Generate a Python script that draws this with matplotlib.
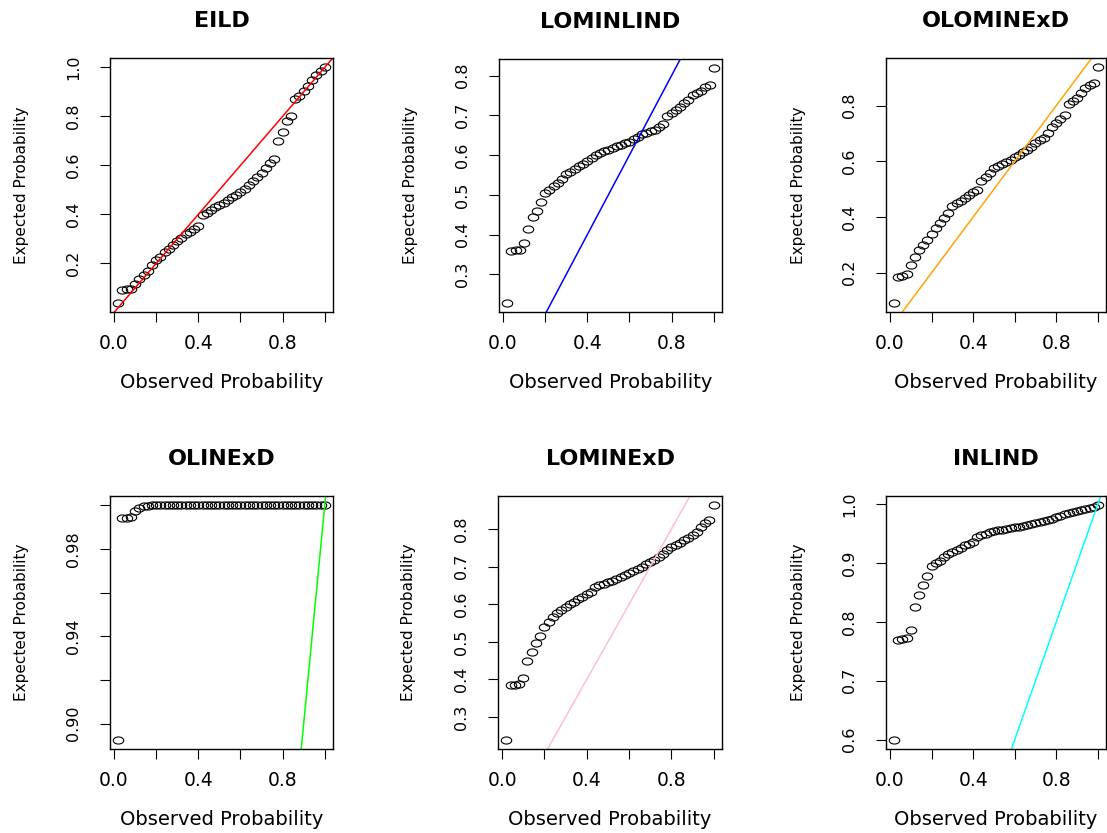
import numpy as np
import matplotlib.pyplot as plt
from matplotlib.path import Path

# observed probabilities (same sample for every model)
observed = [0.02, 0.04, 0.06, 0.08, 0.10, 0.12, 0.14, 0.16, 0.18, 0.20,
            0.22, 0.24, 0.26, 0.28, 0.30, 0.32, 0.34, 0.36, 0.38, 0.40,
            0.42, 0.44, 0.46, 0.48, 0.50, 0.52, 0.54, 0.56, 0.58, 0.60,
            0.62, 0.64, 0.66, 0.68, 0.70, 0.72, 0.74, 0.76, 0.78, 0.80,
            0.82, 0.84, 0.86, 0.88, 0.90, 0.92, 0.94, 0.96, 0.98, 1.00]

# expected probabilities for each fitted model
eild = [0.040, 0.092, 0.094, 0.097, 0.115, 0.135, 0.152, 0.170, 0.192, 0.212,
        0.226, 0.245, 0.258, 0.275, 0.290, 0.303, 0.318, 0.330, 0.342, 0.352,
        0.398, 0.405, 0.418, 0.430, 0.440, 0.448, 0.458, 0.470, 0.480, 0.492,
        0.503, 0.518, 0.535, 0.552, 0.570, 0.590, 0.610, 0.628, 0.700, 0.735,
        0.780, 0.800, 0.870, 0.885, 0.905, 0.925, 0.950, 0.968, 0.985, 1.000]
lominlind = [0.229, 0.360, 0.361, 0.362, 0.378, 0.415, 0.445, 0.460, 0.482, 0.505,
             0.512, 0.522, 0.530, 0.540, 0.552, 0.558, 0.566, 0.572, 0.578, 0.586,
             0.592, 0.600, 0.606, 0.610, 0.614, 0.618, 0.622, 0.626, 0.630, 0.634,
             0.640, 0.645, 0.652, 0.656, 0.660, 0.664, 0.670, 0.677, 0.698, 0.706,
             0.714, 0.722, 0.732, 0.738, 0.750, 0.756, 0.762, 0.770, 0.776, 0.818]
olominexd = [0.093, 0.185, 0.190, 0.195, 0.228, 0.255, 0.280, 0.298, 0.318, 0.340,
             0.362, 0.380, 0.398, 0.414, 0.440, 0.450, 0.458, 0.468, 0.478, 0.490,
             0.496, 0.530, 0.545, 0.558, 0.575, 0.582, 0.590, 0.598, 0.605, 0.615,
             0.622, 0.632, 0.640, 0.650, 0.665, 0.675, 0.683, 0.700, 0.722, 0.738,
             0.752, 0.765, 0.805, 0.815, 0.828, 0.845, 0.862, 0.875, 0.882, 0.937]
olinexd = [0.8927, 0.9942, 0.9943, 0.9945, 0.9972, 0.9990, 0.9996, 0.9999, 1.0000, 1.0000,
           1.0000, 1.0000, 1.0000, 1.0000, 1.0000, 1.0000, 1.0000, 1.0000, 1.0000, 1.0000,
           1.0000, 1.0000, 1.0000, 1.0000, 1.0000, 1.0000, 1.0000, 1.0000, 1.0000, 1.0000,
           1.0000, 1.0000, 1.0000, 1.0000, 1.0000, 1.0000, 1.0000, 1.0000, 1.0000, 1.0000,
           1.0000, 1.0000, 1.0000, 1.0000, 1.0000, 1.0000, 1.0000, 1.0000, 1.0000, 1.0000]
lominexd = [0.240, 0.385, 0.386, 0.388, 0.403, 0.450, 0.474, 0.496, 0.515, 0.540,
            0.552, 0.565, 0.576, 0.586, 0.592, 0.600, 0.606, 0.614, 0.620, 0.626,
            0.632, 0.645, 0.650, 0.655, 0.658, 0.662, 0.666, 0.672, 0.677, 0.682,
            0.688, 0.694, 0.700, 0.708, 0.712, 0.717, 0.725, 0.735, 0.745, 0.752,
            0.757, 0.762, 0.770, 0.776, 0.783, 0.792, 0.806, 0.815, 0.823, 0.863]
inlind = [0.600, 0.770, 0.771, 0.772, 0.786, 0.826, 0.845, 0.862, 0.878, 0.895,
          0.900, 0.904, 0.910, 0.915, 0.919, 0.923, 0.926, 0.930, 0.933, 0.936,
          0.945, 0.947, 0.950, 0.952, 0.954, 0.956, 0.957, 0.958, 0.960, 0.961,
          0.962, 0.963, 0.965, 0.966, 0.968, 0.969, 0.971, 0.973, 0.975, 0.978,
          0.980, 0.983, 0.985, 0.987, 0.988, 0.990, 0.992, 0.994, 0.996, 0.998]

titles = ["EILD", "LOMINLIND", "OLOMINExD", "OLINExD", "LOMINExD", "INLIND"]
expected = [eild, lominlind, olominexd, olinexd, lominexd, inlind]
line_colors = ["#FF0000", "#0000FF", "#FFA500", "#00FF00", "#FFC0CB", "#00FFFF"]

x_ticks = [0.0, 0.2, 0.4, 0.6, 0.8, 1.0]
x_labels = ["0.0", "", "0.4", "", "0.8", ""]
y_ticks = [
    [0.2, 0.4, 0.6, 0.8, 1.0],
    [0.3, 0.4, 0.5, 0.6, 0.7, 0.8],
    [0.2, 0.4, 0.6, 0.8],
    [0.90, 0.92, 0.94, 0.96, 0.98, 1.00],
    [0.3, 0.4, 0.5, 0.6, 0.7, 0.8],
    [0.6, 0.7, 0.8, 0.9, 1.0],
]
y_labels = [
    ["0.2", "0.4", "0.6", "0.8", "1.0"],
    ["0.3", "0.4", "0.5", "0.6", "0.7", "0.8"],
    ["0.2", "0.4", "0.6", "0.8"],
    ["0.90", "", "0.94", "", "0.98", ""],
    ["0.3", "0.4", "0.5", "0.6", "0.7", "0.8"],
    ["0.6", "0.7", "0.8", "0.9", "1.0"],
]

W, H = 1107, 833
# panel boxes in pixels: left, top, right, bottom
boxes = [(110, 58, 333, 312), (499, 59, 722, 312), (886, 58, 1106, 312),
         (110, 496, 333, 749), (498, 496, 722, 749), (886, 496, 1106, 749)]

# slightly wide open "circle", like the stretched R output
t = np.linspace(0, 2 * np.pi, 60)
ellipse = Path(np.column_stack([np.cos(t), 0.68 * np.sin(t)]), closed=True)

plt.rcParams["font.family"] = "DejaVu Sans"

fig = plt.figure(figsize=(W / 100, H / 100), dpi=100)

for i in range(6):
    l, tp, r, b = boxes[i]
    ax = fig.add_axes([l / W, 1 - b / H, (r - l) / W, (b - tp) / H])
    x = np.array(observed)
    y = np.array(expected[i])
    ax.plot(x, y, linestyle="none", marker=ellipse, markersize=7.5,
            markerfacecolor="none", markeredgecolor="black", markeredgewidth=0.8)

    # R style limits: data range plus 4% each side
    xpad = 0.04 * (x.max() - x.min())
    ypad = 0.04 * (y.max() - y.min())
    ax.set_xlim(x.min() - xpad, x.max() + xpad)
    ax.set_ylim(y.min() - ypad, y.max() + ypad)
    ax.set_autoscale_on(False)
    ax.axline((0, 0), slope=1, color=line_colors[i], linewidth=1.1)

    ax.set_xticks(x_ticks, x_labels)
    ax.set_yticks(y_ticks[i], y_labels[i])
    ax.tick_params(axis="x", length=7, width=0.8, labelsize=13.5, pad=8.5)
    ax.tick_params(axis="y", length=7, width=0.8, labelsize=11.5, pad=14,
                   labelrotation=90)
    for lab in ax.get_yticklabels():
        lab.set_verticalalignment("center")
    for sp in ax.spines.values():
        sp.set_linewidth(1.0)

    ax.set_title(titles[i], fontsize=16, fontweight="bold", pad=22)
    ax.set_xlabel("Observed Probability", fontsize=14)
    ax.set_ylabel("Expected Probability", fontsize=11)
    ax.xaxis.set_label_coords(0.5, -0.24)
    ax.yaxis.set_label_coords(-0.365, 0.5)

fig.savefig("out.png", dpi=100)
